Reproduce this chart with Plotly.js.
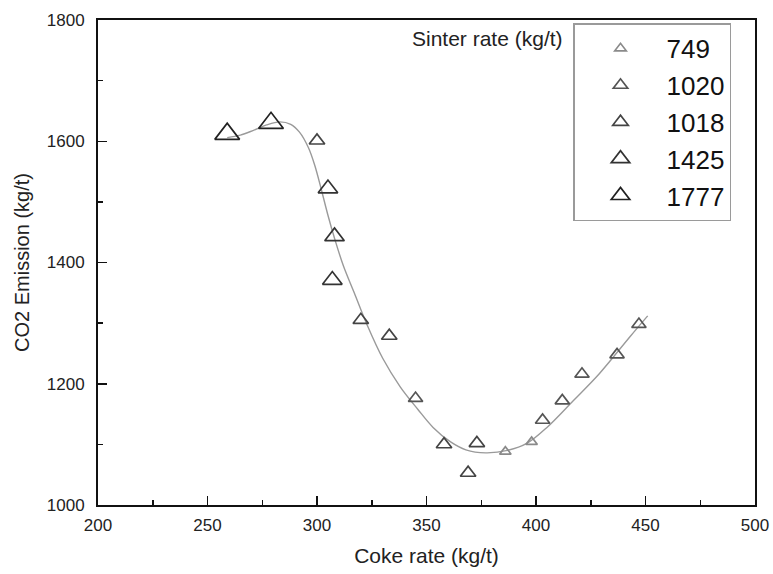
<!DOCTYPE html>
<html>
<head>
<meta charset="utf-8">
<script src="https://cdn.plot.ly/plotly-3.0.1.min.js"></script>
<style>html,body{margin:0;padding:0;background:#fff;}#chart{width:773px;height:574px;}</style>
</head>
<body>
<div id="chart"></div>
<script>
// Sinter-rate groups (legend labels)
const groupNames = ['749', '1020', '1018', '1425', '1777'];
// Coke rate (kg/t) and CO2 emission (kg/t) for each group
const x749 = [386, 398];
const y749 = [1088, 1104];
const x1020 = [345, 403, 412, 421, 437, 447];
const y1020 = [1176, 1140, 1172, 1216, 1248, 1298];
const x1018 = [300, 320, 333, 358, 369, 373];
const y1018 = [1601, 1305, 1279, 1100, 1053, 1102];
const x1425 = [305, 307, 308];
const y1425 = [1522, 1371, 1443];
const x1777 = [259, 279];
const y1777 = [1612, 1630];
// Fitted curve
const fitX = [259, 265, 271, 277, 283, 288, 292, 296, 299, 302, 305, 308, 312, 317, 323, 330, 338, 346, 353, 361, 368, 377, 387, 396, 405, 417, 429, 443, 451];
const fitY = [1606, 1610, 1618, 1627, 1632, 1628, 1615, 1590, 1560, 1520, 1478, 1440, 1395, 1350, 1296, 1242, 1195, 1158, 1128, 1104, 1091, 1086, 1090, 1102, 1128, 1172, 1217, 1278, 1312];
// Tick labels
const xTicks = [200, 250, 300, 350, 400, 450, 500];
const yTicks = [1000, 1200, 1400, 1600, 1800];

const groupX = [x749, x1020, x1018, x1425, x1777];
const groupY = [y749, y1020, y1018, y1425, y1777];
const groupSize = [10, 12.5, 13.5, 17, 21.5];
const groupColor = ['#8a8a8a', '#555555', '#444444', '#333333', '#222222'];

const traces = [{
  x: fitX, y: fitY, mode: 'lines', type: 'scatter',
  line: {color: '#9a9a9a', width: 1.4, shape: 'spline', smoothing: 1},
  showlegend: false, hoverinfo: 'skip'
}];
groupNames.forEach((n, i) => {
  traces.push({
    x: groupX[i], y: groupY[i], mode: 'markers', type: 'scatter', name: n,
    marker: {symbol: 'triangle-up-open', size: groupSize[i], color: groupColor[i], line: {width: 1.7, color: groupColor[i]}}
  });
});

const font = 'Arial, "Liberation Sans", sans-serif';
const layout = {
  width: 773, height: 574,
  margin: {l: 98, r: 18, t: 20, b: 69},
  paper_bgcolor: '#fff', plot_bgcolor: '#fff',
  font: {family: font, color: '#222', size: 17},
  showlegend: true,
  legend: {
    x: 0.723, y: 0.993, xanchor: 'left', yanchor: 'top',
    font: {family: font, size: 26, color: '#111'},
    bordercolor: '#9a9a9a', borderwidth: 1.5, bgcolor: '#fff',
    itemwidth: 82
  },
  xaxis: {
    range: [200, 500], tickmode: 'array', tickvals: xTicks, ticktext: xTicks.map(String),
    showgrid: false, zeroline: false, showline: true, linecolor: '#111', linewidth: 2, mirror: true,
    ticks: 'inside', ticklen: 9, tickwidth: 1.5, tickcolor: '#111',
    minor: {dtick: 25, ticks: 'inside', ticklen: 5, tickwidth: 1.5, tickcolor: '#111'},
    tickfont: {family: font, size: 17, color: '#222'},
    ticklabelstandoff: 4,
    title: {text: 'Coke rate (kg/t)', font: {family: font, size: 21, color: '#222'}, standoff: 14}
  },
  yaxis: {
    range: [1000, 1800], tickmode: 'array', tickvals: yTicks, ticktext: yTicks.map(String),
    showgrid: false, zeroline: false, showline: true, linecolor: '#111', linewidth: 2, mirror: true,
    ticks: 'inside', ticklen: 9, tickwidth: 1.5, tickcolor: '#111',
    minor: {dtick: 100, ticks: 'inside', ticklen: 5, tickwidth: 1.5, tickcolor: '#111'},
    tickfont: {family: font, size: 17, color: '#222'},
    ticklabelstandoff: 8,
    title: {text: 'CO2 Emission (kg/t)', font: {family: font, size: 20, color: '#222'}, standoff: 12}
  },
  annotations: [{
    xref: 'paper', yref: 'paper', x: 0.711, y: 0.962, xanchor: 'right', yanchor: 'middle',
    text: 'Sinter rate (kg/t)', showarrow: false, font: {family: font, size: 21, color: '#222'}
  }]
};
Plotly.newPlot('chart', traces, layout, {displayModeBar: false, staticPlot: true});
</script>
</body>
</html>
